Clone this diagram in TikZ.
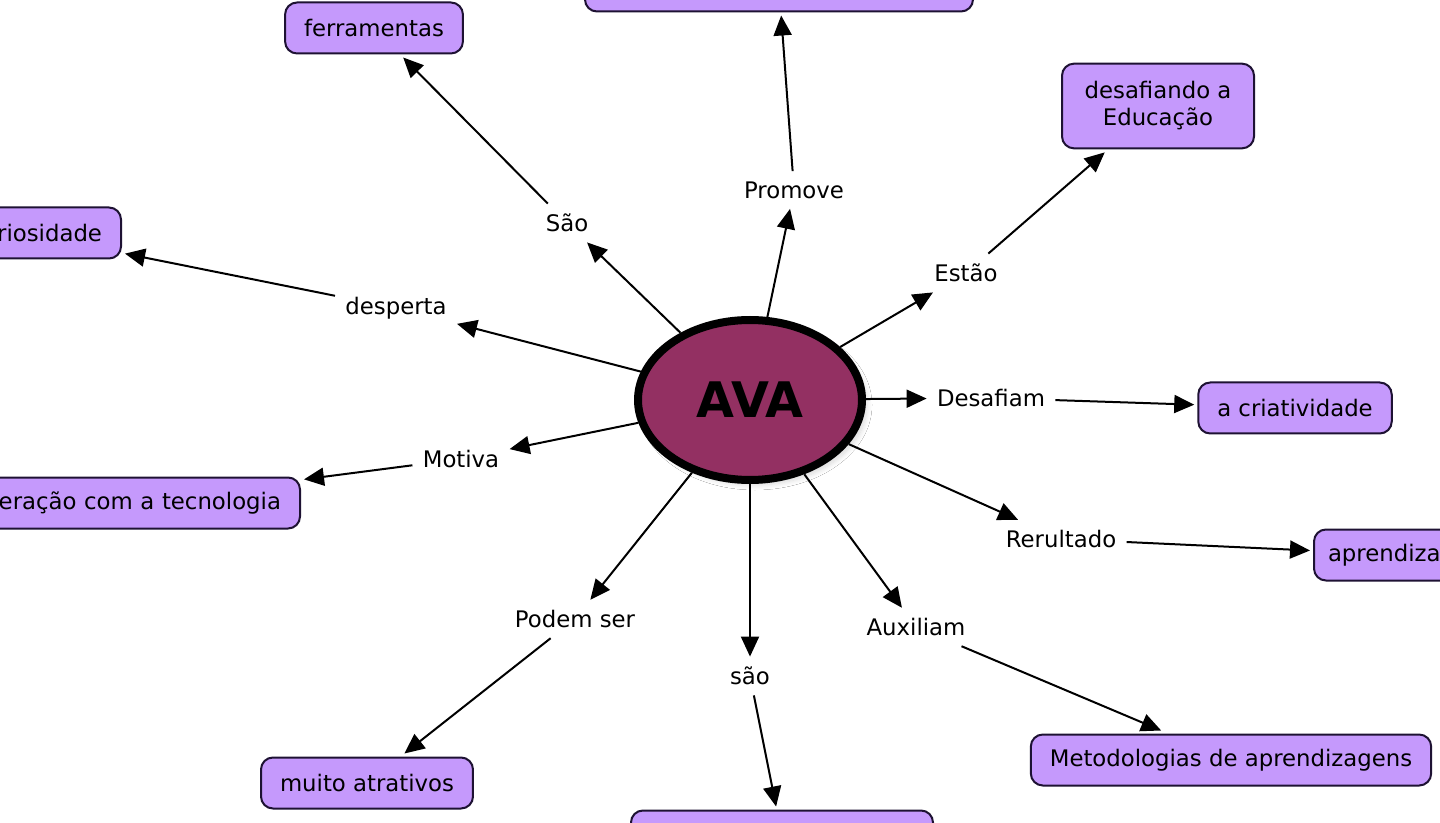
\documentclass[tikz,border=0pt]{standalone}
\usepackage{fontspec}
\setmainfont{DejaVu Sans}
\usepackage{xcolor}
\usepackage{tikz}
\usetikzlibrary{graphs}
\usetikzlibrary{arrows.meta,shapes.geometric,shadows.blur}
\definecolor{avafill}{HTML}{933062}
\definecolor{boxfill}{HTML}{C599FC}
\definecolor{boxline}{HTML}{1E1233}
\tikzset{
	concept/.style={
			draw=boxline, fill=boxfill, line width=1pt, rounded corners=6pt,
			minimum height=25.5pt, inner xsep=9.5pt, outer sep=2pt
		},
	phrase/.style={inner sep=5pt},
	hub/.style={
			ellipse, draw=black, fill=avafill, line width=4pt,
			minimum width=112pt, minimum height=80pt,
			font=\bfseries\fontsize{24.5}{28}\selectfont,
			blur shadow={shadow xshift=2.5pt, shadow yshift=-2.5pt, shadow blur radius=2.5pt, shadow blur steps=8, shadow opacity=15}
		}
}

\begin{document}
\begin{tikzpicture}[x=0.5pt, y=-0.5pt, font=\fontsize{11.4}{13.5}\selectfont, >={Triangle[length=10pt,width=9pt]}]
	\useasboundingbox[fill=white] (0,0) rectangle (1440,823);
	\clip (0,0) rectangle (1440,823);
	\graph[no placement, edges={line width=1pt}]{
		ava/AVA[at={(750,400)}, hub];
		sao/"São"[at={(567,223)}, phrase];
		ferr/"ferramentas"[at={(374,28)}, concept];
		prom/"Promove"[at={(794,190)}, phrase];
		topbox/[at={(779,-14)}, concept, minimum width=194pt];
		est/"Estão"[at={(966,273)}, phrase];
		desaf/"desafiando a\\Educação"[at={(1158,106)}, concept, align=center, inner ysep=9pt, minimum width=96pt];
		desp/"desperta"[at={(396,308)}, phrase];
		curi/"riosidade"[at={(125,233)}, anchor=east, concept, text width=80pt, align=right];
		desa/"Desafiam"[at={(991,398)}, phrase];
		criat/"a criatividade"[at={(1295,408)}, concept];
		moti/"Motiva"[at={(461,459)}, phrase];
		inter/"eração com a tecnologia"[at={(304,503)}, anchor=east, concept, text width=160pt, align=right];
		reru/"Rerultado"[at={(1061,539)}, phrase];
		apre/"aprendiza"[at={(1310,555)}, anchor=west, concept, inner xsep=7pt, text width=80pt, align=left];
		pode/"Podem ser"[at={(575,619)}, phrase];
		atra/"muito atrativos"[at={(367,783)}, concept];
		saob/"são"[at={(750,676)}, phrase];
		bottombox/[at={(782,836)}, concept, minimum width=151pt];
		auxi/"Auxiliam"[at={(916,627)}, phrase];
		meto/"Metodologias de aprendizagens"[at={(1231,760)}, concept];
		ava -> sao -> ferr;
		ava -> prom -> topbox;
		ava -> est -> desaf;
		ava -> desp -> curi;
		ava -> desa -> criat;
		ava -> moti -> inter;
		ava -> reru -> apre;
		ava -> pode -> atra;
		ava -> saob -> bottombox;
		ava -> auxi -> meto;
	};
\end{tikzpicture}
\end{document}
